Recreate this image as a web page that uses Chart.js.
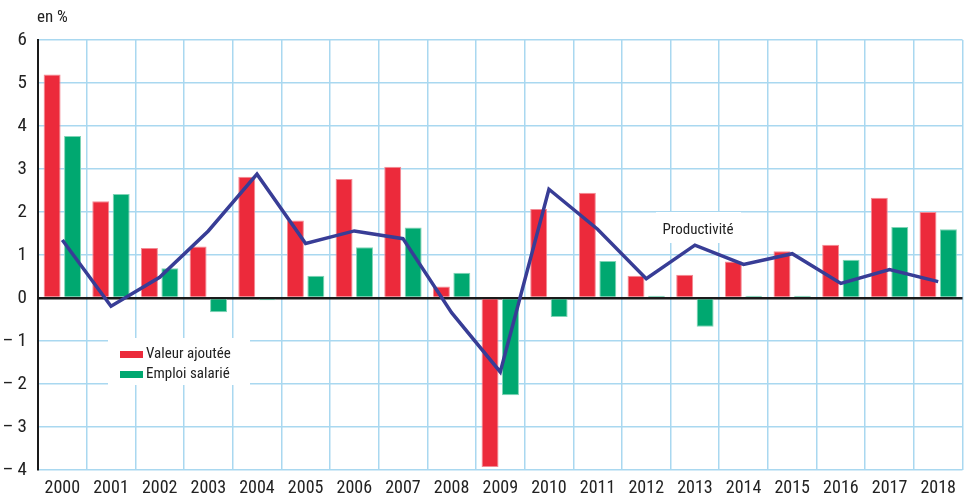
<!DOCTYPE html>
<html>
<head>
<meta charset="utf-8">
<script src="https://cdn.jsdelivr.net/npm/chart.js@4"></script>
<style>
  html, body { margin: 0; padding: 0; background: #fff; }
  #wrap { position: relative; width: 964px; height: 498px; }
</style>
</head>
<body>
<div id="wrap"><canvas id="chart" width="964" height="498"></canvas></div>
<script>
// Data
const years = ['2000', '2001', '2002', '2003', '2004', '2005', '2006', '2007', '2008', '2009',
               '2010', '2011', '2012', '2013', '2014', '2015', '2016', '2017', '2018'];
const valeurAjoutee = [5.2, 2.25, 1.16, 1.2, 2.82, 1.8, 2.77, 3.05, 0.27, -3.93,
                       2.07, 2.45, 0.52, 0.54, 0.85, 1.09, 1.24, 2.33, 2.0];
const emploiSalarie = [3.77, 2.42, 0.69, -0.33, -0.05, 0.52, 1.18, 1.64, 0.59, -2.26,
                       -0.44, 0.86, 0.05, -0.67, 0.05, 0.05, 0.89, 1.65, 1.6];
const productivite = [1.35, -0.19, 0.48, 1.56, 2.88, 1.27, 1.56, 1.38, -0.34, -1.72,
                      2.53, 1.6, 0.45, 1.23, 0.78, 1.03, 0.34, 0.66, 0.38];

const FONT = "'Liberation Sans Narrow', 'Arial Narrow', 'Roboto Condensed', Roboto, sans-serif";
const RED = '#ec2a3b';
const GREEN = '#00a870';
const BLUE = '#383d96';
const GRID = '#a9d8f0';

// Extra labels: unit, legend box, "Productivité" tag
const annotations = {
    id: 'annotations',
    beforeDatasetsDraw(chart) {
        const ctx = chart.ctx;
        ctx.save();
        // legend box
        ctx.fillStyle = '#fff';
        ctx.fillRect(108, 338, 142, 47);
        // productivite tag
        ctx.fillRect(656, 212, 85, 31);
        ctx.restore();
    },
    afterDraw(chart) {
        const ctx = chart.ctx;
        ctx.save();
        ctx.fillStyle = '#222';
        ctx.textBaseline = 'middle';
        ctx.font = '17px ' + FONT;
        ctx.textAlign = 'left';
        ctx.fillText('en %', 37, 18);

        ctx.font = '15px ' + FONT;
        ctx.fillStyle = RED;
        ctx.fillRect(120, 351, 23, 7);
        ctx.fillStyle = GREEN;
        ctx.fillRect(120, 371, 23, 7);
        ctx.fillStyle = '#222';
        ctx.fillText('Valeur ajoutée', 146, 354);
        ctx.fillText('Emploi salarié', 146, 374);

        ctx.textAlign = 'center';
        ctx.fillText('Productivité', 698, 230);
        ctx.restore();
    }
};

const ctx = document.getElementById('chart').getContext('2d');
new Chart(ctx, {
    type: 'bar',
    data: {
        labels: years,
        datasets: [{
            type: 'line',
            label: 'Productivité',
            data: productivite,
            borderColor: BLUE,
            borderWidth: 3.5,
            pointRadius: 0,
            tension: 0,
            order: 0
        }, {
            label: 'Valeur ajoutée',
            data: valeurAjoutee,
            backgroundColor: RED,
            borderColor: '#f38a94',
            borderWidth: 1,
            categoryPercentage: 0.84,
            barPercentage: 0.83,
            order: 1
        }, {
            label: 'Emploi salarié',
            data: emploiSalarie,
            backgroundColor: GREEN,
            borderColor: '#7fd4b6',
            borderWidth: 1,
            categoryPercentage: 0.84,
            barPercentage: 0.83,
            order: 1
        }]
    },
    options: {
        responsive: false,
        animation: false,
        layout: { padding: { top: 40, right: 1, left: 0, bottom: 0 } },
        plugins: {
            legend: { display: false },
            tooltip: { enabled: false }
        },
        scales: {
            x: {
                grid: {
                    offset: true,
                    color: GRID,
                    lineWidth: 1.5,
                    drawTicks: false
                },
                border: { display: false },
                ticks: {
                    color: '#222',
                    padding: 8,
                    maxRotation: 0,
                    autoSkip: false,
                    font: { family: FONT, size: 18 }
                },
                afterFit(scale) { scale.height = 28; }
            },
            y: {
                min: -4,
                max: 6,
                grid: {
                    color: c => c.tick.value === 0 ? '#1a1a1a' : GRID,
                    lineWidth: c => c.tick.value === 0 ? 2.5 : 1.5,
                    drawTicks: false
                },
                border: { display: true, color: '#1a1a1a', width: 2 },
                ticks: {
                    stepSize: 1,
                    color: '#222',
                    padding: 11,
                    font: { family: FONT, size: 19 },
                    callback: v => v < 0 ? '\u2013 ' + Math.abs(v) : String(v)
                },
                afterFit(scale) { scale.width = 38; }
            }
        }
    },
    plugins: [annotations]
});
</script>
</body>
</html>
